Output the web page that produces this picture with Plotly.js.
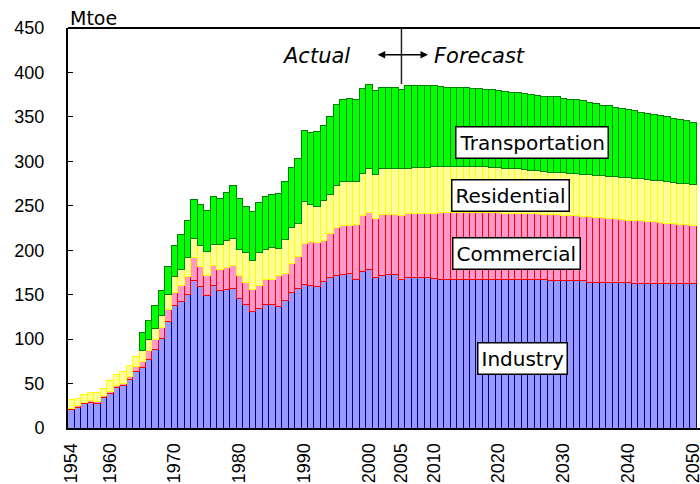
<!DOCTYPE html>
<html>
<head>
<meta charset="utf-8">
<script src="https://cdn.plot.ly/plotly-3.0.1.min.js"></script>
<style>
  html, body { margin: 0; padding: 0; background: #fff; }
  #plot { width: 700px; height: 484px; }
</style>
</head>
<body>
<div id="plot"></div>
<script>
// years 1954..2050
var years = [];
for (var y = 1954; y <= 2050; y++) years.push(y);

// Mtoe by sector (actual to 2005, forecast after)
var industry = [
  20.8, 23.0, 27.3, 28.4, 27.3, 34.4, 38.6, 45.4, 47.3, 54.9,
  63.6, 68.2, 76.8, 88.2, 101.0, 119.5, 137.5, 142.5, 150.5, 166.3,
  158.8, 149.4, 160.6, 154.3, 155.8, 156.9, 145.6, 139.0, 130.6, 134.0,
  138.5, 138.5, 137.0, 143.0, 152.5, 156.5, 161.5, 160.5, 159.5, 165.0,
  169.0, 171.5, 172.5, 173.5, 167.5, 176.0, 178.0, 169.3, 172.0, 173.0,
  172.8, 167.6, 169.3, 169.3, 169.3, 169.0, 168.5, 167.5, 167.5, 167.5,
  167.5, 167.5, 167.5, 167.5, 167.5, 167.5, 167.5, 167.5, 167.5, 167.5,
  167.5, 167.5, 167.5, 167.5, 165.6, 165.6, 165.6, 165.6, 165.6, 165.6,
  163.7, 163.7, 163.7, 163.7, 163.7, 163.7, 163.7, 162.6, 162.6, 162.6,
  162.6, 162.6, 162.6, 162.6, 162.6, 162.6, 162.6
];
var commercial = [
  1.5, 2.0, 1.4, 2.6, 2.2, 1.9, 2.7, 2.6, 2.7, 2.6,
  6.1, 6.8, 10.7, 11.8, 12.0, 13.7, 14.5, 18.1, 20.3, 25.5,
  23.3, 22.5, 22.6, 24.0, 24.8, 26.3, 26.3, 24.3, 25.2, 26.6,
  28.5, 28.5, 34.9, 30.8, 32.5, 36.5, 46.5, 49.7, 48.8, 46.3,
  49.9, 53.7, 55.8, 54.8, 61.9, 63.2, 64.2, 66.5, 68.7, 67.0,
  67.2, 71.9, 71.7, 71.9, 72.1, 72.4, 73.1, 74.5, 74.7, 74.9,
  75.1, 75.1, 75.1, 75.0, 74.9, 74.7, 74.5, 74.3, 74.0, 74.0,
  74.0, 73.8, 73.5, 73.0, 74.4, 74.2, 74.0, 73.7, 73.2, 72.4,
  74.0, 73.5, 72.8, 72.3, 71.8, 70.8, 70.3, 70.9, 70.4, 69.9,
  69.4, 68.9, 67.9, 67.4, 66.9, 66.4, 65.7
];
var residential = [
  9.5, 8.3, 9.1, 8.8, 10.3, 8.7, 12.4, 12.2, 14.0, 12.9,
  11.0, 11.7, 11.7, 12.5, 13.5, 17.3, 18.0, 18.1, 21.0, 21.5,
  23.6, 26.3, 23.7, 28.6, 30.8, 30.1, 29.3, 33.8, 32.3, 36.5,
  33.9, 36.1, 30.1, 38.3, 40.7, 37.2, 47.0, 41.4, 41.4, 45.1,
  44.3, 48.1, 48.8, 48.8, 47.7, 47.3, 49.2, 49.6, 50.7, 51.4,
  51.4, 51.9, 51.5, 51.8, 51.9, 52.1, 52.4, 52.0, 51.8, 51.6,
  51.4, 51.4, 51.4, 51.5, 51.4, 51.3, 51.0, 50.7, 50.5, 50.0,
  49.5, 48.7, 48.5, 48.5, 48.0, 47.7, 47.4, 47.2, 47.2, 47.5,
  47.3, 46.8, 47.1, 47.2, 47.3, 47.8, 48.0, 47.5, 47.5, 47.3,
  47.0, 46.5, 46.7, 46.5, 46.0, 45.6, 45.2
];
var transportation = [
  null, null, null, null, null, null, null, null, null, null,
  null, 20.8, 21.8, 25.7, 28.5, 31.0, 35.4, 39.1, 41.4, 43.7,
  46.1, 47.0, 53.3, 51.5, 54.1, 59.0, 57.2, 52.6, 55.2, 56.4,
  59.3, 60.1, 62.0, 65.0, 67.3, 73.2, 79.2, 80.7, 83.8, 83.8,
  87.2, 91.0, 92.1, 94.0, 92.1, 95.8, 95.1, 94.3, 92.1, 91.7,
  91.7, 89.8, 92.5, 92.0, 91.7, 91.5, 91.0, 90.0, 89.5, 89.5,
  89.5, 89.3, 88.5, 87.5, 87.5, 87.0, 86.5, 86.0, 85.5, 85.5,
  85.5, 85.5, 85.0, 84.0, 85.0, 85.0, 83.5, 83.5, 83.5, 83.0,
  81.5, 81.0, 79.4, 79.3, 78.2, 76.7, 76.0, 76.0, 75.0, 74.2,
  73.5, 73.3, 72.8, 71.5, 71.5, 71.4, 70.5
];

var tickYears = [1954, 1960, 1970, 1980, 1990, 2000, 2005, 2010, 2020, 2030, 2040, 2050];
var sectorNames = ["Industry", "Commercial", "Residential", "Transportation"];

var FONT = "Liberation Sans, Arial, sans-serif";
var TEXTFONT = "DejaVu Sans, sans-serif";

function barTrace(name, vals, fill, edge) {
  return {
    type: "bar", name: name, x: years, y: vals,
    marker: { color: fill, line: { color: edge, width: 1 } },
    hoverinfo: "x+y+name"
  };
}

var data = [
  barTrace(sectorNames[0], industry, "#9999ff", "#000080"),
  barTrace(sectorNames[1], commercial, "#ff99cc", "#ff0000"),
  barTrace(sectorNames[2], residential, "#ffff99", "#ffff00"),
  barTrace(sectorNames[3], transportation, "#00ff00", "#008000")
];

function label(txt, x, y) {
  return {
    text: txt, x: x, y: y, xref: "x", yref: "y", showarrow: false,
    font: { family: TEXTFONT, size: 20, color: "#000" },
    bgcolor: "#fff", bordercolor: "#000", borderwidth: 1.5, borderpad: 3
  };
}

var layout = {
  width: 700, height: 484,
  margin: { l: 68, r: 0, t: 28, b: 56 },
  paper_bgcolor: "#fff", plot_bgcolor: "#fff",
  barmode: "stack", bargap: 0,
  showlegend: false,
  font: { family: FONT, size: 18, color: "#000" },
  xaxis: {
    range: [1953.54, 2051.07],
    tickmode: "array", tickvals: tickYears, ticktext: tickYears.map(String),
    tickangle: -90, ticks: "", showgrid: false, zeroline: false,
    showline: true, linecolor: "#000", linewidth: 2,
    tickfont: { family: FONT, size: 18 },
    ticklabelstandoff: 6, ticklabeloverflow: "allow"
  },
  yaxis: {
    range: [0, 450], dtick: 50, ticks: "inside", ticklen: 5,
    tickcolor: "#000", showgrid: false, zeroline: false,
    showline: true, linecolor: "#000", linewidth: 2,
    tickfont: { family: FONT, size: 18 },
    ticklabelstandoff: 18
  },
  shapes: [
    // top frame line (right side runs off the picture)
    { type: "line", xref: "paper", yref: "paper", x0: 0, x1: 1.02, y0: 1, y1: 1,
      line: { color: "#000", width: 2 } },
    // actual / forecast divider
    { type: "line", xref: "x", yref: "y", x0: 2005, x1: 2005, y0: 387, y1: 450,
      line: { color: "#222", width: 1.5 } }
  ],
  annotations: [
    { text: "Mtoe", xref: "paper", yref: "paper", x: 0, y: 1, xanchor: "left", yanchor: "bottom",
      yshift: -3, showarrow: false, font: { family: TEXTFONT, size: 19 } },
    { text: "<i>Actual</i>", x: 1991.75, y: 418, xref: "x", yref: "y", showarrow: false,
      font: { family: TEXTFONT, size: 21 } },
    { text: "<i>Forecast</i>", x: 2017.1, y: 418, xref: "x", yref: "y", showarrow: false,
      font: { family: TEXTFONT, size: 21 } },
    { text: "", x: 2009.1, y: 420, ax: 2001.1, ay: 420, xref: "x", yref: "y",
      axref: "x", ayref: "y", showarrow: true, arrowside: "end+start",
      arrowhead: 2, arrowsize: 1, arrowwidth: 1.5, arrowcolor: "#000" },
    label(sectorNames[3], 2025.1, 320.7),
    label(sectorNames[2], 2021.9, 262.1),
    label(sectorNames[1], 2022.7, 196.7),
    label(sectorNames[0], 2023.7, 78.4)
  ]
};

Plotly.newPlot("plot", data, layout, { staticPlot: true });
</script>
</body>
</html>
